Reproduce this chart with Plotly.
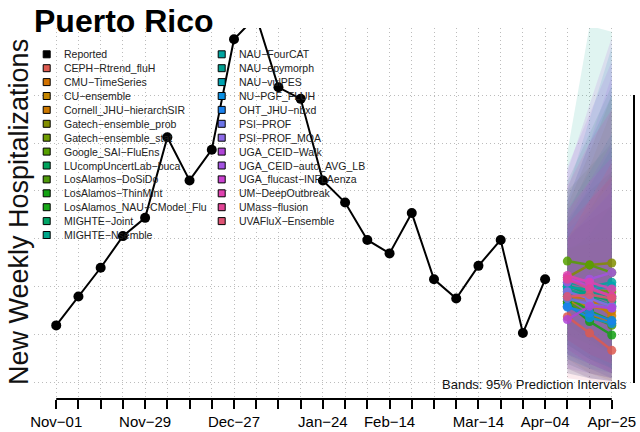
import pandas as pd
import plotly.graph_objects as go

# weekly dates on the x axis, only some get a label
weeks = pd.date_range("2025-11-01", "2026-04-25", freq="7D")
label_weeks = ["Nov−01", "Nov−29", "Dec−27", "Jan−24", "Feb−14", "Mar−14", "Apr−04", "Apr−25"]

# reported weekly hospitalizations (Nov-01 .. Apr-04)
reported = [60, 90, 120, 153, 172, 256, 211, 243, 358, 382, 308, 296, 211,
            188, 149, 135, 177, 108, 88, 122, 149, 52, 108]

models = [
    "CEPH−Rtrend_fluH", "CMU−TimeSeries", "CU−ensemble", "Cornell_JHU−hierarchSIR",
    "Gatech−ensemble_prob", "Gatech−ensemble_stat", "Google_SAI−FluEns",
    "LUcompUncertLab−buca", "LosAlamos−DoSiDo", "LosAlamos−ThinMint",
    "LosAlamos_NAU−CModel_Flu", "MIGHTE−Joint", "MIGHTE−Nsemble",
    "NAU−FourCAT", "NAU−epymorph", "NAU−vulPES", "NU−PGF_FLUH", "OHT_JHU−nbxd",
    "PSI−PROF", "PSI−PROF_MOA", "UGA_CEID−Walk", "UGA_CEID−auto_AVG_LB",
    "UGA_flucast−INFLAenza", "UM−DeepOutbreak", "UMass−flusion", "UVAFluX−Ensemble",
]
colors = [
    "#DE5A50", "#D27200", "#C58600", "#CC7800", "#828E00", "#6E9C00", "#56A000",
    "#00A35C", "#4E9A0A", "#12A212", "#18A818", "#00A566", "#00A68A",
    "#00A5A0", "#009F90", "#00A4B2", "#0A8FE3", "#1A82EE", "#6C74E8", "#8D6AE8",
    "#B044D8", "#A454E2", "#CC42D2", "#E042B0", "#E24496", "#DF5474",
]

# forecasts for the 3 weeks after the last report: median and 95% band
median = [
    [69, 52, 34], [80, 72, 62], [85, 80, 75], [90, 88, 70], [110, 123, 125],
    [100, 97, 95], [127, 123, 115], [95, 90, 88], [85, 70, 60], [83, 64, 50],
    [90, 75, 65], [102, 92, 85], [98, 90, 80], [105, 100, 105], [92, 95, 90],
    [100, 97, 101], [80, 68, 62], [79, 73, 65], [88, 82, 78], [95, 88, 80],
    [66, 80, 78], [105, 108, 115], [110, 100, 90], [112, 105, 98], [108, 98, 90],
    [90, 92, 88],
]
lower95 = [
    [30, 15, 5], [40, 25, 10], [35, 20, 10], [25, 10, 2], [45, 30, 20],
    [50, 40, 30], [60, 45, 30], [10, 5, 2], [40, 25, 15], [45, 30, 15],
    [20, 10, 5], [30, 20, 10], [15, 5, 2], [40, 25, 15], [25, 15, 10],
    [35, 25, 15], [30, 20, 10], [25, 15, 5], [20, 10, 5], [15, 10, 5],
    [10, 5, 2], [30, 20, 10], [35, 20, 10], [15, 5, 2], [45, 30, 20],
    [5, 2, 0],
]
upper95 = [
    [140, 150, 165], [135, 155, 185], [150, 180, 220], [175, 225, 285], [185, 240, 300],
    [155, 170, 185], [200, 225, 250], [210, 260, 310], [140, 145, 150], [130, 120, 110],
    [170, 200, 220], [190, 250, 300], [240, 372, 366], [180, 220, 260], [165, 205, 245],
    [200, 275, 350], [160, 180, 210], [150, 175, 200], [170, 210, 250], [190, 250, 320],
    [220, 290, 360], [225, 280, 335], [180, 210, 235], [205, 250, 285], [165, 190, 215],
    [150, 190, 230],
]

W, H = 640, 432
L, R, T, B = 34, 6, 28, 33
FONT = "Liberation Sans, Arial, sans-serif"


def px_x(px):
    return (px - L) / (W - L - R)


def px_y(py):
    return (H - B - py) / (H - T - B)


def rgba(hexcol, a):
    h = hexcol.lstrip("#")
    return "rgba(%d,%d,%d,%s)" % (int(h[0:2], 16), int(h[2:4], 16), int(h[4:6], 16), a)


fc_weeks = list(weeks[len(reported):])

fig = go.Figure()

# prediction bands first, so lines sit on top
for col, lo, hi in zip(colors, lower95, upper95):
    fig.add_trace(go.Scatter(
        x=fc_weeks + fc_weeks[::-1], y=hi + lo[::-1],
        fill="toself", fillcolor=rgba(col, 0.12), line=dict(width=0),
        mode="lines", hoverinfo="skip", showlegend=False))

for name, col, med in zip(models, colors, median):
    fig.add_trace(go.Scatter(
        x=fc_weeks, y=med, name=name, mode="lines+markers", opacity=0.85,
        line=dict(color=col, width=2.5), marker=dict(color=col, size=9),
        showlegend=False))

fig.add_trace(go.Scatter(
    x=weeks[:len(reported)], y=reported, name="Reported", mode="lines+markers",
    line=dict(color="black", width=2), marker=dict(color="black", size=10),
    showlegend=False))

ticktext = [w.strftime("%b−%d") if w.strftime("%b−%d") in label_weeks else "" for w in weeks]
pad = pd.Timedelta(days=7)
gridvals = [0, 50, 100, 150, 200, 250, 300]
yrange = [-16.7, 369.8]

fig.update_layout(
    width=W, height=H,
    margin=dict(l=L, r=R, t=T, b=B, autoexpand=False),
    paper_bgcolor="white", plot_bgcolor="white",
    font=dict(family=FONT, color="black"),
    title=dict(text="<b>Puerto Rico</b>", font=dict(size=32, color="black"),
               x=34 / W, xanchor="left", y=1 - 21 / H, yanchor="middle"),
    xaxis=dict(range=[weeks[0] - pad, weeks[-1] + pad], tickvals=list(weeks), ticktext=ticktext,
               ticks="outside", ticklen=9, tickwidth=2, tickcolor="black", automargin=False,
               tickfont=dict(size=15), showline=False, zeroline=False,
               showgrid=True, gridcolor="#bcbcbc", gridwidth=1, griddash="1px,3px"),
    yaxis=dict(range=yrange, tickvals=gridvals, showticklabels=False, ticks="",
               showline=False, zeroline=False, automargin=False,
               showgrid=True, gridcolor="#bcbcbc", gridwidth=1, griddash="1px,3px"),
    yaxis2=dict(range=yrange, overlaying="y", side="right", tickvals=gridvals,
                showticklabels=False, ticks="outside", ticklen=8, tickwidth=2, automargin=False,
                tickcolor="black", showgrid=False, zeroline=False, showline=False),
)

# axis lines only span first..last tick, like base R
fig.add_shape(type="line", xref="x", yref="paper", x0=weeks[0], x1=weeks[-1], y0=0, y1=0,
              line=dict(color="black", width=2))
fig.add_shape(type="line", xref="paper", yref="y", x0=1, x1=1, y0=gridvals[0], y1=gridvals[-1],
              line=dict(color="black", width=2))

fig.add_annotation(text="New Weekly Hospitalizations", textangle=-90, showarrow=False,
                   xref="paper", yref="paper", x=px_x(19), y=px_y(212),
                   xanchor="center", yanchor="middle", font=dict(size=27, color="#111"))

fig.add_annotation(text="Bands: 95% Prediction Intervals", showarrow=False,
                   xref="paper", yref="paper", x=px_x(629), y=px_y(384),
                   xanchor="right", yanchor="middle", font=dict(size=13, color="#111"))

# two-column legend drawn by hand
leg_names = ["Reported"] + models
leg_colors = ["#000000"] + colors
for i, (name, col) in enumerate(zip(leg_names, leg_colors)):
    colx, row = (0, i) if i < 14 else (1, i - 14)
    bx = 46.7 + colx * 175
    ty = 54.3 + row * 13.9
    fig.add_shape(type="rect", xref="paper", yref="paper",
                  x0=px_x(bx - 3.5), x1=px_x(bx + 3.5), y0=px_y(ty + 3.5), y1=px_y(ty - 3.5),
                  fillcolor=col, line=dict(color="black", width=1))
    fig.add_annotation(text=name, showarrow=False, xref="paper", yref="paper",
                       x=px_x(bx + 15), y=px_y(ty), xanchor="left", yanchor="middle",
                       font=dict(size=10.5, color="#222"))

# drop the default body margin so the 640x432 figure fills the window exactly
fig.write_html("out.html", config={"displayModeBar": False},
               post_script="document.body.style.margin='0';")
